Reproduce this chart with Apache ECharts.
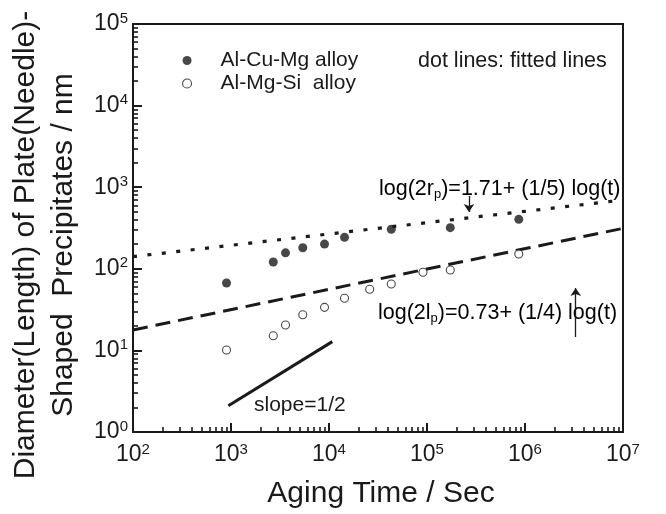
<!DOCTYPE html>
<html><head><meta charset="utf-8">
<script src="https://cdn.jsdelivr.net/npm/echarts@6/dist/echarts.min.js"></script>
<style>html,body{margin:0;padding:0;background:#fff}#c{width:666px;height:514px}</style>
</head><body><div id="c"></div>
<script>
// ---- data ----
const cuTime  = [900, 2700, 3600, 5400, 9000, 14400, 43200, 172800, 864000];
const cuSize  = [67, 121, 157, 181, 201, 243, 305, 319, 404];
const mgsTime = [900, 2700, 3600, 5400, 9000, 14400, 26000, 43200, 91000, 172800, 864000];
const mgsSize = [10.1, 15.1, 20.5, 27.4, 33.7, 43.5, 56.1, 65.1, 90.6, 96.7, 152];
const fitRTime = [100, 1e7];
const fitRSize = [141, 697];
const fitLTime = [100, 1e7];
const fitLSize = [17.8, 313];
const slopeTime = [940, 10800];
const slopeSize = [2.1, 12.8];
const arrowR = {t: 268000, from: 780, to: 497};
const arrowL = {t: 3290000, from: 14.6, to: 58};
const xMajor = [1e2, 1e3, 1e4, 1e5, 1e6, 1e7];
const yMajor = [1e0, 1e1, 1e2, 1e3, 1e4, 1e5];
const seriesNames = ['Al-Cu-Mg alloy', 'Al-Mg-Si  alloy'];

function minorTicks(major) {
  const out = [];
  for (let i = 0; i < major.length - 1; i++) for (let k = 2; k <= 9; k++) out.push(major[i] * k);
  return out;
}
const zip = (a, b) => a.map((v, i) => [v, b[i]]);
const INK = '#1a1a1a';
const FONT = '"Liberation Sans", Arial, Helvetica, sans-serif';
const expLabel = v => '{b|10}{s|' + Math.round(Math.log10(v)) + '}';
const tickRich = {
  b: {fontSize: 23, lineHeight: 26, color: INK, fontFamily: FONT},
  s: {fontSize: 15, lineHeight: 15, verticalAlign: 'top', color: INK, fontFamily: FONT}
};
const textRich = {
  t: {fontSize: 21.5, lineHeight: 24, color: INK, fontFamily: FONT},
  sub: {fontSize: 13, lineHeight: 12, verticalAlign: 'bottom', color: INK, fontFamily: FONT}
};

const chart = echarts.init(document.getElementById('c'), null, {renderer: 'canvas'});
const option = {
  animation: false,
  backgroundColor: '#fff',
  textStyle: {fontFamily: FONT, color: INK},
  grid: {left: 133, right: 43, top: 24, bottom: 82, show: true, borderColor: INK, borderWidth: 2, outerBoundsMode: 'none'},
  legend: {
    orient: 'vertical', left: 177, top: 45, itemWidth: 57, itemHeight: 9, itemGap: 2,
    textStyle: {fontSize: 21, color: INK, fontFamily: FONT},
    data: [
      {name: seriesNames[0], icon: 'circle', itemStyle: {color: INK, borderWidth: 0}},
      {name: seriesNames[1], icon: 'circle', itemStyle: {color: '#fff', borderColor: INK, borderWidth: 1.1}}
    ],
    selectedMode: false
  },
  xAxis: [
    {
      type: 'log', logBase: 10, min: 100, max: 1e7, position: 'bottom',
      name: 'Aging Time / Sec', nameLocation: 'middle', nameGap: 47,
      nameTextStyle: {fontSize: 30, lineHeight: 30, color: INK, fontFamily: FONT, padding: [0, 0, 0, 6]},
      axisLine: {show: true, onZero: false, lineStyle: {color: INK, width: 2}},
      axisTick: {show: true, inside: true, length: 9, lineStyle: {color: INK, width: 2}},
      axisLabel: {margin: 10, formatter: expLabel, rich: tickRich},
      splitLine: {show: false}, minorTick: {show: false}
    },
    {
      type: 'log', logBase: 10, min: 100, max: 1e7, position: 'top', offset: -408,
      axisLine: {show: false}, axisLabel: {show: false}, splitLine: {show: false},
      axisTick: {show: true, inside: false, length: 5, customValues: minorTicks(xMajor), lineStyle: {color: INK, width: 1.6}}
    }
  ],
  yAxis: [
    {
      type: 'log', logBase: 10, min: 1, max: 1e5, position: 'left',
      name: 'Diameter(Length) of Plate(Needle)-\nShaped  Precipitates / nm',
      nameLocation: 'middle', nameRotate: 90, nameGap: 47,
      nameTextStyle: {fontSize: 30, lineHeight: 38, color: INK, fontFamily: FONT, padding: [0, 34, 0, 0]},
      axisLine: {show: true, onZero: false, lineStyle: {color: INK, width: 2}},
      axisTick: {show: true, inside: true, length: 9, lineStyle: {color: INK, width: 2}},
      axisLabel: {margin: 5, formatter: expLabel, rich: tickRich},
      splitLine: {show: false}
    },
    {
      type: 'log', logBase: 10, min: 1, max: 1e5, position: 'right', offset: -490,
      axisLine: {show: false}, axisLabel: {show: false}, splitLine: {show: false},
      axisTick: {show: true, inside: false, length: 5, customValues: minorTicks(yMajor), lineStyle: {color: INK, width: 1.6}}
    }
  ],
  series: [
    {
      name: seriesNames[0], type: 'scatter', symbol: 'circle', symbolSize: 9,
      itemStyle: {color: INK}, data: zip(cuTime, cuSize), z: 5
    },
    {
      name: seriesNames[1], type: 'scatter', symbol: 'circle', symbolSize: 8,
      itemStyle: {color: '#fff', borderColor: INK, borderWidth: 1.1}, data: zip(mgsTime, mgsSize), z: 5
    },
    {
      name: 'fitR', type: 'line', showSymbol: false, symbol: 'none', data: zip(fitRTime, fitRSize),
      lineStyle: {color: INK, width: 3.2, type: [4, 10.5], cap: 'butt'}, z: 3,
      markLine: {
        silent: true, symbol: ['none', 'arrow'], symbolSize: 8, label: {show: false},
        lineStyle: {color: INK, width: 1.3, type: 'solid'},
        data: [
          [{coord: [arrowR.t, arrowR.from]}, {coord: [arrowR.t, arrowR.to]}],
          [{coord: [arrowL.t, arrowL.from]}, {coord: [arrowL.t, arrowL.to]}]
        ]
      }
    },
    {
      name: 'fitL', type: 'line', showSymbol: false, symbol: 'none', data: zip(fitLTime, fitLSize),
      lineStyle: {color: INK, width: 3, type: [15, 8], cap: 'butt'}, z: 3
    },
    {
      name: 'slope', type: 'line', showSymbol: false, symbol: 'none', data: zip(slopeTime, slopeSize),
      lineStyle: {color: INK, width: 3}, z: 3
    }
  ],
  graphic: [
    {type: 'text', x: 418, y: 61, style: {text: 'dot lines: fitted lines', fontSize: 21.5, fontFamily: FONT, fill: INK, verticalAlign: 'middle'}},
    {type: 'text', x: 379, y: 189, style: {text: '{t|log(2r}{sub|p}{t|)=1.71+ (1/5) log(t)}', rich: textRich, verticalAlign: 'middle'}},
    {type: 'text', x: 378, y: 313, style: {text: '{t|log(2l}{sub|p}{t|)=0.73+ (1/4) log(t)}', rich: textRich, verticalAlign: 'middle'}},
    {type: 'text', x: 254, y: 405, style: {text: 'slope=1/2', fontSize: 21, fontFamily: FONT, fill: INK, verticalAlign: 'middle'}}
  ]
};
chart.setOption(option);
</script></body></html>
